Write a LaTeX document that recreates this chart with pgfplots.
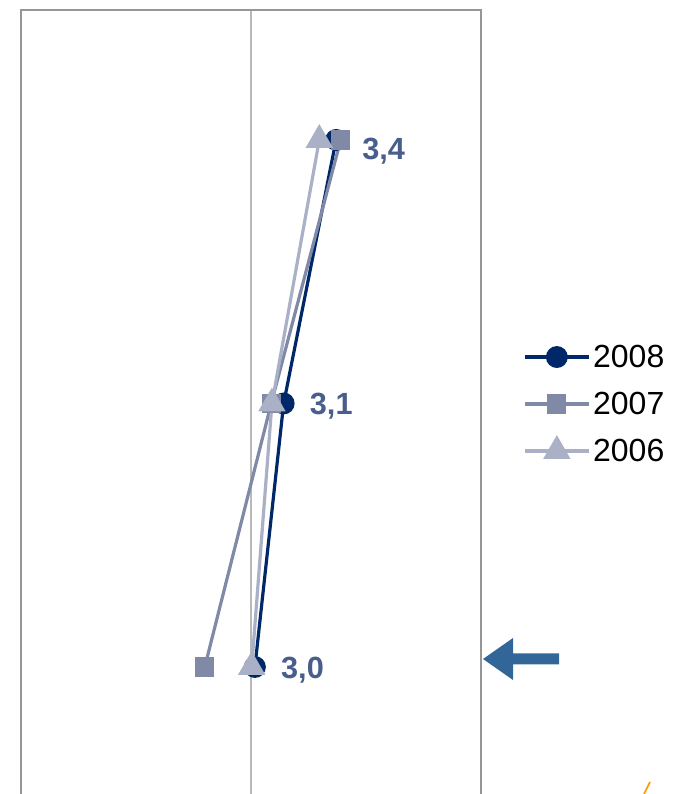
\documentclass[border=0pt]{standalone}
\usepackage{fontspec}
\setmainfont{Liberation Sans}
\usepackage{pgfplots}
\usepackage{pgfplotstable}
\pgfplotsset{compat=1.18}

\definecolor{c08}{RGB}{0,40,104}
\definecolor{c07}{RGB}{128,137,165}
\definecolor{c06}{RGB}{170,176,197}
\definecolor{labc}{RGB}{73,94,140}
\definecolor{arrowc}{RGB}{50,101,152}
\definecolor{gridc}{RGB}{185,185,185}
\definecolor{framec}{RGB}{150,150,150}

% x, y (level), label, vertical offset of label in px
\pgfplotstableread{
x     y  lab  dy
3.017 1  3,0  3
3.142 2  3,1  3
3.370 3  3,4  11
}\tabA
\pgfplotstableread{
x     y
2.799 1
3.088 2
3.390 3
}\tabB
\pgfplotstableread{
x     y
3.003 1
3.091 2
3.297 3
}\tabC

\begin{document}
\begin{tikzpicture}
\begin{axis}[
    name=ax,
    scale only axis,
    width=345pt, height=588pt,
    xmin=2, xmax=4,
    ymin=0.518, ymax=3.493,
    xtick={2,3,4}, xticklabels={},
    ytick=\empty,
    major tick length=0pt,
    axis line style={draw=none},
    xmajorgrids,
    grid style={gridc, line width=1pt},
    clip=false,
    legend style={at={(rel axis cs:1.0913,0.4974)}, anchor=west,
        draw=none, fill=none, inner sep=0pt,
        font=\fontsize{24}{28}\selectfont,
        nodes={inner sep=2pt},
        row sep=13pt},
    legend cell align=left,
    legend image code/.code={%
        \draw[mark repeat=2,mark phase=2] plot coordinates {(0pt,0pt)(24pt,0pt)(48pt,0pt)};},
]
\draw[framec, line width=1.1pt] (rel axis cs:0,0) -- (rel axis cs:0,1) -- (rel axis cs:1,1) -- (rel axis cs:1,0);

\addplot[c08, line width=2.4pt, mark=*, mark size=7pt,
    mark options={solid, fill=c08},
    point meta=explicit symbolic,
    visualization depends on={\thisrow{dy} \as \dy},
    nodes near coords,
    nodes near coords style={anchor=west, inner sep=0pt, xshift=18.5pt,
        yshift=-0.75pt*\dy, text=labc,
        font=\fontsize{23}{27}\selectfont\bfseries}]
    table[x=x, y=y, meta=lab] {\tabA};
\addlegendentry{2008}

\addplot[c07, line width=2.4pt, mark=square*, mark size=6pt,
    mark options={solid, fill=c07}]
    table[x=x, y=y] {\tabB};
\addlegendentry{2007}

\addplot[c06, line width=2.4pt, mark=triangle*, mark size=9.5pt,
    mark options={solid, fill=c06}]
    table[x=x, y=y] {\tabC};
\addlegendentry{2006}
\end{axis}

\begin{scope}[x=0.75pt, y=-0.75pt, shift={([xshift=-15.75pt, yshift=595.5pt]ax.south west)}]
    \fill[arrowc] (483,659) -- (513,638) -- (513,653.5) -- (559,653.5)
        -- (559,664.5) -- (513,664.5) -- (513,680) -- cycle;
    \draw[orange!80!yellow, line width=1.2pt] (644,794) -- (650,782);
    \pgfresetboundingbox
    \path[use as bounding box] (0,0) rectangle (673,794);
\end{scope}
\end{tikzpicture}
\end{document}
